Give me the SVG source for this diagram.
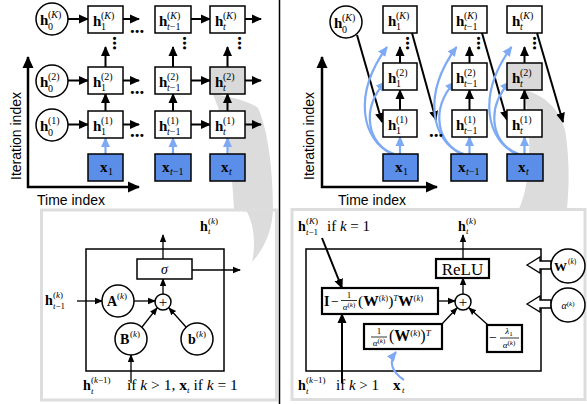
<svg xmlns="http://www.w3.org/2000/svg" width="587" height="404" viewBox="0 0 587 404">
<style>
.b{font-family:"Liberation Serif",serif;font-weight:bold;font-size:15px}
.s{font-family:"Liberation Serif",serif;font-size:10px}
.m{font-family:"Liberation Serif",serif;font-size:14px}
.i{font-style:italic}
.sans{font-family:"Liberation Sans",Arial,sans-serif;font-size:14px}
.dots{font-family:"Liberation Serif",serif;font-weight:bold;font-size:19px}
.box{fill:#fff;stroke:#000;stroke-width:1.5}
.gbox{fill:#d9d9d9;stroke:#000;stroke-width:1.5}
.xb{fill:#5b8ee8;stroke:#000;stroke-width:1.5}
.cir{fill:#fff;stroke:#000;stroke-width:1.5}
.tb{fill:#fff;stroke:#000;stroke-width:2.2}
.ar{stroke:#000;stroke-width:2;fill:none;marker-end:url(#ah)}
.as{stroke:#000;stroke-width:1.3;fill:none;marker-end:url(#ahs)}
.bl{stroke:#7eaaf4;stroke-width:2.2;fill:none;marker-end:url(#ahb)}
.ax{stroke:#000;stroke-width:2.5;fill:none;marker-end:url(#ahx)}
.frame{fill:none;stroke:#dddddd;stroke-width:3}
.cres{fill:#dcdcdc}
</style>
<defs>
<marker id="ah" markerUnits="userSpaceOnUse" markerWidth="11" markerHeight="10" refX="9" refY="5" orient="auto"><path d="M0,0.5 L10,5 L0,9.5 z" fill="#000"/></marker>
<marker id="ahs" markerUnits="userSpaceOnUse" markerWidth="9" markerHeight="8" refX="7" refY="4" orient="auto"><path d="M0,0.8 L8,4 L0,7.2 z" fill="#000"/></marker>
<marker id="ahb" markerUnits="userSpaceOnUse" markerWidth="11" markerHeight="10" refX="9" refY="5" orient="auto"><path d="M0,0.5 L10,5 L0,9.5 z" fill="#7eaaf4"/></marker>
<marker id="ahx" markerUnits="userSpaceOnUse" markerWidth="13" markerHeight="12" refX="11" refY="6" orient="auto"><path d="M0,0.5 L12,6 L0,11.5 z" fill="#000"/></marker>
</defs>
<rect width="587" height="404" fill="#fff"/>

<!-- background callouts -->
<g id="callouts">
<path class="cres" d="M213,94 C235,97 252,103 258,108 C268,130 273,170 273,210 C272,230 265,248 252,262 C256,245 254,225 247,212 L234,209 C232,170 228,130 213,94 Z"/>
<path class="cres" d="M524,90 C545,95 560,110 565,130 C570,160 569,190 567,209 L519,209 C530,185 533,140 524,90 Z"/>
<rect class="frame" x="41.5" y="210" width="235" height="190"/>
<rect class="frame" x="292" y="209.5" width="293" height="190"/>
</g>
<line x1="279.5" y1="0" x2="279.5" y2="404" stroke="#000" stroke-width="1.5"/>

<!-- LEFT PANEL -->
<g id="connectors-left">
<line class="ax" x1="28" y1="188" x2="28" y2="57"/>
<line class="ax" x1="27" y1="187" x2="139" y2="187"/>
<line class="ar" x1="68" y1="19" x2="88" y2="19"/>
<line class="ar" x1="123" y1="19" x2="139" y2="19"/>
<line class="ar" x1="191" y1="19" x2="210" y2="19"/>
<line class="ar" x1="245" y1="19" x2="261" y2="19"/>
<line class="ar" x1="68" y1="80.5" x2="88" y2="80.5"/>
<line class="ar" x1="123" y1="80.5" x2="139" y2="80.5"/>
<line class="ar" x1="191" y1="80.5" x2="210" y2="80.5"/>
<line class="ar" x1="245" y1="80.5" x2="261" y2="80.5"/>
<line class="ar" x1="68" y1="124.5" x2="88" y2="124.5"/>
<line class="ar" x1="123" y1="124.5" x2="139" y2="124.5"/>
<line class="ar" x1="191" y1="124.5" x2="210" y2="124.5"/>
<line class="ar" x1="245" y1="124.5" x2="261" y2="124.5"/>
<line class="ar" x1="105.5" y1="111" x2="105.5" y2="94"/>
<line class="ar" x1="105.5" y1="67" x2="105.5" y2="47"/>
<line class="ar" x1="173" y1="111" x2="173" y2="94"/>
<line class="ar" x1="173" y1="67" x2="173" y2="47"/>
<line class="ar" x1="227.5" y1="111" x2="227.5" y2="94"/>
<line class="ar" x1="227.5" y1="67" x2="227.5" y2="47"/>
<line class="bl" x1="105.5" y1="154" x2="105.5" y2="138"/>
<line class="bl" x1="173" y1="154" x2="173" y2="138"/>
<line class="bl" x1="227.5" y1="154" x2="227.5" y2="138"/>
</g>
<g id="ellipses-left">
<text class="dots" x="130" y="33">...</text>
<text class="dots" x="130" y="94">...</text>
<text class="dots" x="130" y="137">...</text>
<text class="dots" transform="translate(113,36) rotate(90)">...</text>
<text class="dots" transform="translate(183,36) rotate(90)">...</text>
<text class="dots" transform="translate(238,36) rotate(90)">...</text>
</g>
<text class="sans" transform="translate(21,136) rotate(-90)" text-anchor="middle">Iteration index</text>
<text class="sans" x="37" y="205">Time index</text>

<g id="L-h0K"><circle class="cir" cx="52" cy="19" r="16"/><text class="b" x="40" y="25">h</text><text class="s" x="48" y="18">(<tspan class="i">K</tspan>)</text><text class="s" x="48" y="30">0</text></g>
<g id="L-h0-2"><circle class="cir" cx="52" cy="81" r="16"/><text class="b" x="40" y="87">h</text><text class="s" x="48" y="80">(2)</text><text class="s" x="48" y="92">0</text></g>
<g id="L-h0-1"><circle class="cir" cx="52" cy="125" r="16"/><text class="b" x="40" y="131">h</text><text class="s" x="48" y="124">(1)</text><text class="s" x="48" y="136">0</text></g>

<g id="L-h1K"><rect class="box" x="88" y="6" width="35" height="27"/><text class="b" x="93" y="26">h</text><text class="s" x="101" y="18.5">(<tspan class="i">K</tspan>)</text><text class="s" x="101" y="30">1</text></g>
<g id="L-h1-2"><rect class="box" x="88" y="67" width="35" height="27"/><text class="b" x="93" y="87">h</text><text class="s" x="101" y="79.5">(2)</text><text class="s" x="101" y="91">1</text></g>
<g id="L-h1-1"><rect class="box" x="88" y="111" width="35" height="27"/><text class="b" x="93" y="131">h</text><text class="s" x="101" y="123.5">(1)</text><text class="s" x="101" y="135">1</text></g>

<g id="L-htm1K"><rect class="box" x="155" y="6" width="36" height="27"/><text class="b" x="159" y="26">h</text><text class="s" x="167" y="18.5">(<tspan class="i">K</tspan>)</text><text class="s" x="167" y="30"><tspan class="i">t</tspan>−1</text></g>
<g id="L-htm1-2"><rect class="box" x="155" y="67" width="36" height="27"/><text class="b" x="159" y="87">h</text><text class="s" x="167" y="79.5">(2)</text><text class="s" x="167" y="91"><tspan class="i">t</tspan>−1</text></g>
<g id="L-htm1-1"><rect class="box" x="155" y="111" width="36" height="27"/><text class="b" x="159" y="131">h</text><text class="s" x="167" y="123.5">(1)</text><text class="s" x="167" y="135"><tspan class="i">t</tspan>−1</text></g>

<g id="L-htK"><rect class="box" x="210" y="6" width="35" height="27"/><text class="b" x="215" y="26">h</text><text class="s" x="223" y="18.5">(<tspan class="i">K</tspan>)</text><text class="s i" x="223" y="30">t</text></g>
<g id="L-ht-2"><rect class="gbox" x="210" y="67" width="35" height="27"/><text class="b" x="215" y="87">h</text><text class="s" x="223" y="79.5">(2)</text><text class="s i" x="223" y="91">t</text></g>
<g id="L-ht-1"><rect class="box" x="210" y="111" width="35" height="27"/><text class="b" x="215" y="131">h</text><text class="s" x="223" y="123.5">(1)</text><text class="s i" x="223" y="135">t</text></g>

<g id="L-x1"><rect class="xb" x="88" y="154" width="35" height="27"/><text class="b" x="100" y="172">x</text><text class="s" x="108" y="175">1</text></g>
<g id="L-xtm1"><rect class="xb" x="155" y="154" width="36" height="27"/><text class="b" x="162" y="172">x</text><text class="s" x="170" y="175"><tspan class="i">t</tspan>−1</text></g>
<g id="L-xt"><rect class="xb" x="210" y="154" width="35" height="27"/><text class="b" x="221" y="172">x</text><text class="s i" x="229" y="175">t</text></g>

<!-- RIGHT PANEL -->
<g id="connectors-right">
<line class="ax" x1="322" y1="188" x2="322" y2="57"/>
<line class="ax" x1="321" y1="187" x2="437" y2="187"/>
<line class="ar" x1="357" y1="35" x2="382" y2="122"/>
<line class="ar" x1="412" y1="33" x2="436" y2="120"/>
<line class="ar" x1="482" y1="33" x2="507" y2="120"/>
<line class="ar" x1="537" y1="33" x2="563" y2="122"/>
<line class="ar" x1="400" y1="110" x2="400" y2="90"/>
<line class="ar" x1="400" y1="63" x2="400" y2="47"/>
<line class="ar" x1="469.5" y1="110" x2="469.5" y2="90"/>
<line class="ar" x1="469.5" y1="63" x2="469.5" y2="47"/>
<line class="ar" x1="524.5" y1="110" x2="524.5" y2="90"/>
<line class="ar" x1="524.5" y1="63" x2="524.5" y2="47"/>
<line class="bl" x1="400" y1="154" x2="400" y2="137"/>
<line class="bl" x1="469.5" y1="154" x2="469.5" y2="137"/>
<line class="bl" x1="524.5" y1="154" x2="524.5" y2="137"/>
<path class="bl" d="M394,154 C368,145 360,110 385,82"/>
<path class="bl" d="M392,154 C362,140 352,95 387,47"/>
<path class="bl" d="M463.5,154 C437.5,145 429.5,110 454.5,82"/>
<path class="bl" d="M461.5,154 C431.5,140 421.5,95 456.5,47"/>
<path class="bl" d="M518.5,154 C492.5,145 484.5,110 509.5,82"/>
<path class="bl" d="M516.5,154 C486.5,140 476.5,95 511.5,47"/>
</g>
<g id="ellipses-right">
<text class="dots" x="429" y="137">...</text>
<text class="dots" transform="translate(406,36) rotate(90)">...</text>
<text class="dots" transform="translate(477,36) rotate(90)">...</text>
<text class="dots" transform="translate(533,36) rotate(90)">...</text>
</g>
<text class="sans" transform="translate(314,136) rotate(-90)" text-anchor="middle">Iteration index</text>
<text class="sans" x="338" y="205">Time index</text>

<g id="R-h0K"><circle class="cir" cx="346" cy="22" r="16"/><text class="b" x="334" y="28">h</text><text class="s" x="342" y="21">(<tspan class="i">K</tspan>)</text><text class="s" x="342" y="33">0</text></g>
<g id="R-h1K"><rect class="box" x="383" y="6" width="34" height="27"/><text class="b" x="388" y="26">h</text><text class="s" x="396" y="18.5">(<tspan class="i">K</tspan>)</text><text class="s" x="396" y="30">1</text></g>
<g id="R-h1-2"><rect class="box" x="383" y="63" width="34" height="27"/><text class="b" x="388" y="83">h</text><text class="s" x="396" y="75.5">(2)</text><text class="s" x="396" y="87">1</text></g>
<g id="R-h1-1"><rect class="box" x="383" y="110" width="34" height="27"/><text class="b" x="388" y="130">h</text><text class="s" x="396" y="122.5">(1)</text><text class="s" x="396" y="134">1</text></g>
<g id="R-htm1K"><rect class="box" x="452" y="6" width="35" height="27"/><text class="b" x="456" y="26">h</text><text class="s" x="464" y="18.5">(<tspan class="i">K</tspan>)</text><text class="s" x="464" y="30"><tspan class="i">t</tspan>−1</text></g>
<g id="R-htm1-2"><rect class="box" x="452" y="63" width="35" height="27"/><text class="b" x="456" y="83">h</text><text class="s" x="464" y="75.5">(2)</text><text class="s" x="464" y="87"><tspan class="i">t</tspan>−1</text></g>
<g id="R-htm1-1"><rect class="box" x="452" y="110" width="35" height="27"/><text class="b" x="456" y="130">h</text><text class="s" x="464" y="122.5">(1)</text><text class="s" x="464" y="134"><tspan class="i">t</tspan>−1</text></g>
<g id="R-htK"><rect class="box" x="507" y="6" width="35" height="27"/><text class="b" x="512" y="26">h</text><text class="s" x="520" y="18.5">(<tspan class="i">K</tspan>)</text><text class="s i" x="520" y="30">t</text></g>
<g id="R-ht-2"><rect class="gbox" x="507" y="63" width="35" height="27"/><text class="b" x="512" y="83">h</text><text class="s" x="520" y="75.5">(2)</text><text class="s i" x="520" y="87">t</text></g>
<g id="R-ht-1"><rect class="box" x="507" y="110" width="35" height="27"/><text class="b" x="512" y="130">h</text><text class="s" x="520" y="122.5">(1)</text><text class="s i" x="520" y="134">t</text></g>
<g id="R-x1"><rect class="xb" x="383" y="154" width="35" height="27"/><text class="b" x="395" y="172">x</text><text class="s" x="403" y="175">1</text></g>
<g id="R-xtm1"><rect class="xb" x="451" y="154" width="36" height="27"/><text class="b" x="458" y="172">x</text><text class="s" x="466" y="175"><tspan class="i">t</tspan>−1</text></g>
<g id="R-xt"><rect class="xb" x="507" y="154" width="36" height="27"/><text class="b" x="518" y="172">x</text><text class="s i" x="526" y="175">t</text></g>

<!-- BOTTOM LEFT: cell detail -->
<g id="BL-cell">
<rect x="86" y="249" width="138" height="122" fill="none" stroke="#000" stroke-width="1.5"/>
</g>
<g id="BL-connectors">
<line class="as" x1="163" y1="259" x2="163" y2="235"/>
<line class="as" x1="192" y1="270" x2="240" y2="270"/>
<line class="as" x1="163" y1="294" x2="163" y2="279"/>
<line class="as" x1="77" y1="301" x2="102" y2="301"/>
<line class="as" x1="134" y1="301" x2="155" y2="301"/>
<line class="as" x1="142" y1="327" x2="157" y2="308"/>
<line class="as" x1="186" y1="327" x2="169" y2="308"/>
<line class="as" x1="131" y1="383" x2="131" y2="355"/>
</g>
<g id="BL-sigma"><rect x="137" y="259" width="55" height="20" fill="#fff" stroke="#000" stroke-width="1.5"/><text class="m i" x="164.5" y="274" text-anchor="middle">σ</text></g>
<g id="BL-plus"><circle class="cir" cx="163" cy="302" r="8" stroke-width="1.2"/><text class="m" x="163" y="307" text-anchor="middle" style="font-size:15px">+</text></g>
<g id="BL-A"><circle class="cir" cx="118" cy="301" r="16" stroke-width="1.2"/><text class="b" x="107" y="306" style="font-size:14px">A</text><text class="s" x="117" y="299" style="font-size:9px">(<tspan class="i">k</tspan>)</text></g>
<g id="BL-B"><circle class="cir" cx="131" cy="339" r="16" stroke-width="1.2"/><text class="b" x="120" y="344" style="font-size:14px">B</text><text class="s" x="130" y="337" style="font-size:9px">(<tspan class="i">k</tspan>)</text></g>
<g id="BL-b"><circle class="cir" cx="197" cy="339" r="16" stroke-width="1.2"/><text class="b" x="188" y="344" style="font-size:14px">b</text><text class="s" x="196" y="337" style="font-size:9px">(<tspan class="i">k</tspan>)</text></g>
<g id="BL-labels">
<text class="b" x="200" y="231" style="font-size:14px">h</text><text class="s" x="208" y="224" style="font-size:9px">(<tspan class="i">k</tspan>)</text><text class="s i" x="208" y="234" style="font-size:9px">t</text>
<text class="b" x="45" y="305" style="font-size:14px">h</text><text class="s" x="53" y="298" style="font-size:9px">(<tspan class="i">k</tspan>)</text><text class="s" x="53" y="309" style="font-size:9px"><tspan class="i">t</tspan>−1</text>
<text class="b" x="83" y="390" style="font-size:14px">h</text><text class="s" x="91" y="383" style="font-size:9px">(<tspan class="i">k</tspan>−1)</text><text class="s i" x="91" y="394" style="font-size:9px">t</text>
<text class="m" x="127" y="390" style="font-size:15.5px">if <tspan class="i">k</tspan> &gt; 1, <tspan font-weight="bold">x</tspan><tspan class="i" font-size="9" dy="3">t</tspan><tspan dy="-3"> if </tspan><tspan class="i">k</tspan> = 1</text>
</g>

<!-- BOTTOM RIGHT: SISTA cell -->
<g id="BR-cell">
<rect x="306" y="249" width="235" height="122" fill="none" stroke="#000" stroke-width="1.5"/>
</g>
<g id="BR-connectors">
<line class="as" x1="463" y1="259" x2="463" y2="235"/>
<line class="as" x1="463" y1="294" x2="463" y2="278"/>
<line class="as" x1="438" y1="301" x2="455" y2="301"/>
<line class="as" x1="441" y1="325" x2="457" y2="308"/>
<line class="as" x1="488" y1="325" x2="469" y2="308"/>
<line class="ar" x1="322" y1="238" x2="342" y2="288"/>
<line class="ar" x1="342" y1="383" x2="342" y2="314"/>
<path class="bl" d="M404,380 C392,372 388,362 396,352"/>
<path d="M527,265 L540,257 L540,261 L551,261 L551,269 L540,269 L540,273 Z" fill="#fff" stroke="#000" stroke-width="1.3"/>
<path d="M527,304 L540,296 L540,300 L551,300 L551,308 L540,308 L540,312 Z" fill="#fff" stroke="#000" stroke-width="1.3"/>
</g>
<g id="BR-relu"><rect class="tb" x="436" y="259" width="53" height="19"/><text class="m" x="462.5" y="274.5" text-anchor="middle" style="font-size:17px">ReLU</text></g>
<g id="BR-plus"><circle class="cir" cx="463" cy="302" r="8" stroke-width="1.2"/><text class="m" x="463" y="307" text-anchor="middle" style="font-size:15px">+</text></g>
<g id="BR-Ibox"><rect class="tb" x="322" y="288" width="116" height="26"/>
<text class="b" x="324" y="306" style="font-size:14px">I</text><text class="m" x="331" y="306" style="font-size:14px">−</text>
<text class="s" x="349" y="298" style="font-size:9px" text-anchor="middle">1</text><line x1="341" y1="300.5" x2="357" y2="300.5" stroke="#000" stroke-width="0.8"/><text class="s" x="349" y="310" style="font-size:9px" text-anchor="middle"><tspan class="i">α</tspan><tspan font-size="7" dy="-3">(<tspan class="i">k</tspan>)</tspan></text>
<text class="m" x="358" y="306" style="font-size:15.5px">(<tspan font-weight="bold">W</tspan><tspan font-size="8.5" dy="-5">(<tspan class="i">k</tspan>)</tspan><tspan dy="5">)</tspan><tspan class="i" font-size="8.5" dy="-5">T</tspan><tspan font-weight="bold" dy="5">W</tspan><tspan font-size="8.5" dy="-5">(<tspan class="i">k</tspan>)</tspan></text>
</g>
<g id="BR-Wbox"><rect class="tb" x="364" y="324" width="78" height="25"/>
<text class="s" x="379" y="334" style="font-size:9px" text-anchor="middle">1</text><line x1="371" y1="337" x2="387" y2="337" stroke="#000" stroke-width="0.8"/><text class="s" x="379" y="346" style="font-size:9px" text-anchor="middle"><tspan class="i">α</tspan><tspan font-size="7" dy="-3">(<tspan class="i">k</tspan>)</tspan></text>
<text class="m" x="389" y="341" style="font-size:16px">(<tspan font-weight="bold">W</tspan><tspan font-size="9" dy="-5">(<tspan class="i">k</tspan>)</tspan><tspan dy="5">)</tspan><tspan class="i" font-size="9" dy="-5">T</tspan></text>
</g>
<g id="BR-lambda"><rect class="tb" x="487" y="325" width="35" height="27"/>
<text class="m" x="489" y="342" style="font-size:14px">−</text>
<text class="s" x="509" y="334" style="font-size:9px" text-anchor="middle"><tspan class="i">λ</tspan><tspan font-size="7" dy="2">1</tspan></text><line x1="500" y1="338" x2="519" y2="338" stroke="#000" stroke-width="0.8"/><text class="s" x="509" y="348" style="font-size:9px" text-anchor="middle"><tspan class="i">α</tspan><tspan font-size="7" dy="-3">(<tspan class="i">k</tspan>)</tspan></text>
</g>
<g id="BR-W"><circle class="cir" cx="568" cy="266" r="17"/><text class="b" x="554" y="271" style="font-size:13px">W</text><text class="s" x="568" y="264" style="font-size:7.5px">(<tspan class="i">k</tspan>)</text></g>
<g id="BR-alpha"><circle class="cir" cx="568" cy="305" r="17"/><text class="s" x="568" y="309" style="font-size:10px" text-anchor="middle"><tspan class="i">α</tspan><tspan font-size="7" dy="-3">(<tspan class="i">k</tspan>)</tspan></text></g>
<g id="BR-labels">
<text class="b" x="298" y="231" style="font-size:14px">h</text><text class="s" x="306" y="224" style="font-size:9px">(<tspan class="i">K</tspan>)</text><text class="s" x="306" y="235" style="font-size:9px"><tspan class="i">t</tspan>−1</text>
<text class="m" x="327" y="231" style="font-size:15px">if <tspan class="i">k</tspan> = 1</text>
<text class="b" x="458" y="231" style="font-size:14px">h</text><text class="s" x="466" y="224" style="font-size:9px">(<tspan class="i">k</tspan>)</text><text class="s i" x="466" y="234" style="font-size:9px">t</text>
<text class="b" x="298" y="390" style="font-size:14px">h</text><text class="s" x="306" y="383" style="font-size:9px">(<tspan class="i">k</tspan>−1)</text><text class="s i" x="306" y="394" style="font-size:9px">t</text>
<text class="m" x="336" y="390" style="font-size:15px">if <tspan class="i">k</tspan> &gt; 1</text>
<text class="b" x="393" y="390" style="font-size:15px">x</text><text class="s i" x="402" y="393" style="font-size:9px">t</text>
</g>
</svg>
